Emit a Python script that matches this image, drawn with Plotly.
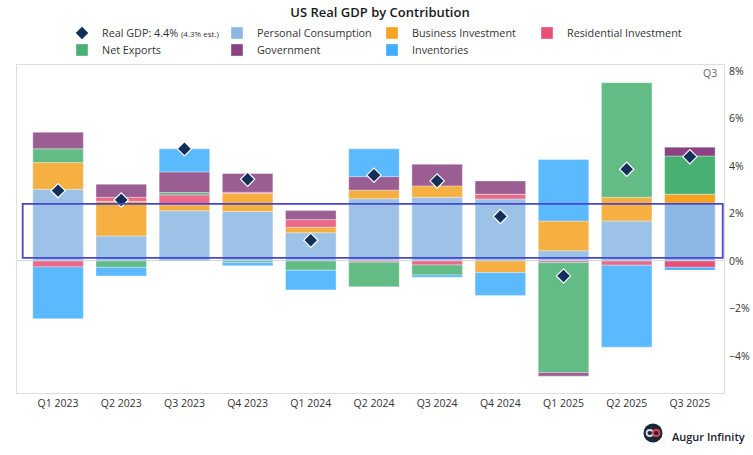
import plotly.graph_objects as go

# ---------------- data ----------------
quarters = ["Q1 2023", "Q2 2023", "Q3 2023", "Q4 2023", "Q1 2024", "Q2 2024",
            "Q3 2024", "Q4 2024", "Q1 2025", "Q2 2025", "Q3 2025"]
personal_consumption = [3.02, 1.05, 2.11, 2.08, 1.19, 2.62, 2.68, 2.61, 0.43, 1.68, 2.43]
business_investment  = [1.12, 1.46, 0.25, 0.76, 0.23, 0.36, 0.48, -0.49, 1.25, 1.00, 0.38]
residential_invest   = [-0.25, 0.17, 0.42, 0.05, 0.32, -0.05, -0.17, 0.20, -0.07, -0.18, -0.27]
net_exports          = [0.58, -0.27, 0.10, -0.07, -0.39, -1.04, -0.42, 0.00, -4.63, 4.83, 1.61]
government           = [0.70, 0.55, 0.87, 0.79, 0.38, 0.57, 0.91, 0.56, -0.15, 0.00, 0.37]
inventories          = [-2.18, -0.36, 0.97, -0.13, -0.83, 1.17, -0.10, -0.96, 2.59, -3.45, -0.11]
real_gdp             = [2.96, 2.57, 4.72, 3.44, 0.87, 3.61, 3.37, 1.87, -0.63, 3.86, 4.39]
y_ticks = [-4, -2, 0, 2, 4, 6, 8]
y_tick_labels = ["\u22124%", "\u22122%", "0%", "2%", "4%", "6%", "8%"]
highlight_band = [0.13, 2.4]

# ---------------- style ----------------
W, H = 753, 455
L, R, T, B = 17, 724, 65, 393
FONT = "Open Sans"

def pxx(p):
    return (p - L) / (R - L)

def pxy(p):
    return (B - p) / (B - T)

series = [
    ("Personal Consumption", personal_consumption, "#8DB8E3", "legend"),
    ("Business Investment", business_investment, "#F5A221", "legend"),
    ("Residential Investment", residential_invest, "#E95076", "legend"),
    ("Net Exports", net_exports, "#48B072", "legend2"),
    ("Government", government, "#8A4380", "legend2"),
    ("Inventories", inventories, "#3FADFD", "legend2"),
]
opac = [0.85] * (len(quarters) - 1) + [1.0]

fig = go.Figure()
for name, vals, col, lg in series:
    fig.add_trace(go.Bar(
        x=quarters, y=vals, name=name, legend=lg,
        marker=dict(color=col, opacity=opac,
                    line=dict(color="rgba(255,255,255,0.45)", width=0.8)),
        width=0.8,
    ))

fig.add_trace(go.Scatter(
    x=quarters, y=real_gdp, mode="markers", legend="legend",
    name="Real GDP: 4.4% <span style='font-size:8px'>(4.3% est.)</span>",
    marker=dict(symbol="diamond", size=11, color="#13305A",
                line=dict(color="white", width=1.2)),
    legendrank=1,
))

leg_common = dict(orientation="h", xref="container", yref="container",
                  x=62 / W, xanchor="left", yanchor="middle",
                  entrywidth=110, traceorder="normal",
                  font=dict(family=FONT, size=10.8, color="#333333"),
                  bgcolor="rgba(0,0,0,0)")

fig.update_layout(
    width=W, height=H,
    margin=dict(l=L, r=W - R, t=T, b=H - B, autoexpand=False),
    paper_bgcolor="white", plot_bgcolor="white",
    barmode="relative", bargap=0.2,
    font=dict(family=FONT, size=10.5, color="#333333"),
    title=dict(text="US Real GDP by Contribution", x=380 / W, xref="container",
               xanchor="center", y=1 - 12.5 / H, yref="container", yanchor="middle",
               font=dict(family=FONT, size=13, color="#1a1a1a", weight=600)),
    showlegend=True,
    legend=dict(leg_common, y=1 - 33 / H),
    legend2=dict(leg_common, y=1 - 50 / H),
    xaxis=dict(type="category", range=[-0.65, 10.54], showgrid=False,
               showline=True, mirror=True, linecolor="#dedede", linewidth=1,
               ticks="", tickfont=dict(size=10.5, color="#333333")),
    yaxis=dict(side="right", range=[-5.56, 8.25], tickmode="array",
               tickvals=y_ticks, ticktext=y_tick_labels,
               showgrid=False, zeroline=True,
               zerolinecolor="#d9d9d9", zerolinewidth=1,
               showline=True, mirror=True, linecolor="#dedede", linewidth=1,
               ticks="", ticklen=0, ticklabelstandoff=2,
               tickfont=dict(size=10.5, color="#333333")),
)

# highlight rectangle
fig.add_shape(type="rect", xref="x", yref="y",
              x0=-0.56, x1=10.52, y0=highlight_band[0], y1=highlight_band[1],
              line=dict(color="#4747D1", width=1.8), fillcolor="rgba(0,0,0,0)",
              layer="above")

# Q3 label
fig.add_annotation(text="Q3", xref="paper", yref="paper", x=pxx(719), y=pxy(73),
                   xanchor="right", yanchor="middle", showarrow=False,
                   font=dict(size=10.5, color="#666666"))

# logo
cx, cy, r = 653, 433, 9.5
fig.add_shape(type="circle", xref="paper", yref="paper",
              x0=pxx(cx - r), x1=pxx(cx + r), y0=pxy(cy + r), y1=pxy(cy - r),
              fillcolor="#1B2638", line=dict(width=0))
for dx, col in [(-3.2, "#d5dde8"), (3.2, "#E4434F")]:
    fig.add_shape(type="circle", xref="paper", yref="paper",
                  x0=pxx(cx + dx - 3.2), x1=pxx(cx + dx + 3.2),
                  y0=pxy(cy + 3.0), y1=pxy(cy - 3.0),
                  fillcolor="rgba(0,0,0,0)", line=dict(color=col, width=1.8))
fig.add_annotation(text="Augur Infinity", xref="paper", yref="paper",
                   x=pxx(747), y=pxy(436), xanchor="right", yanchor="middle",
                   showarrow=False,
                   font=dict(family=FONT, size=11, color="#1a1a2e", weight=600))

fig.write_html("out.html",
               config={"displayModeBar": False},
               post_script="document.body.style.margin='0';"
                           "document.documentElement.style.overflow='hidden';")
